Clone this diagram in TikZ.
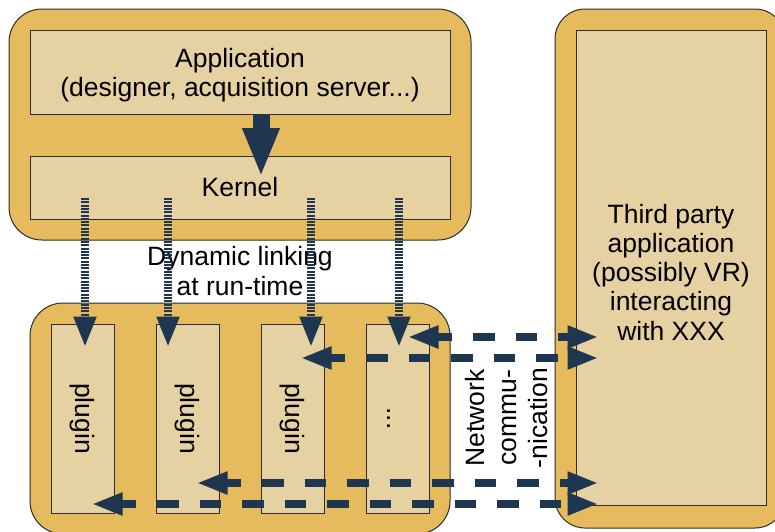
\documentclass[tikz,border=0pt]{standalone}
\usepackage{fontspec}
\setmainfont{Liberation Sans}
\usetikzlibrary{arrows.meta}
\definecolor{contc}{RGB}{230,187,94}
\definecolor{boxc}{RGB}{229,209,161}
\definecolor{arrc}{RGB}{31,54,80}
\definecolor{bordc}{RGB}{45,45,45}
\begin{document}
\begin{tikzpicture}[x=1pt,y=-1pt,
  cont/.style={draw=bordc, line width=1pt, fill=contc, inner sep=0pt, outer sep=0pt},
  box/.style={draw=bordc, line width=1pt, fill=boxc, inner sep=0pt, outer sep=0pt},
  lbl/.style={font=\fontsize{26.5}{29.5}\selectfont, align=center, text=black, inner sep=0pt},
  dotarrow/.style={draw=arrc, line width=8.5pt, dash pattern=on 2pt off 1.3pt, -{Triangle[length=31pt,width=21pt]}},
  netarrow/.style={draw=arrc, line width=8pt, dash pattern=on 21.5pt off 21pt, dash phase=6pt, {Triangle[length=31pt,width=21pt]}-{Triangle[length=31pt,width=21pt]}},
  bigarrow/.style={draw=arrc, line width=17pt, -{Triangle[length=49pt,width=34pt]}}]
\useasboundingbox (0,0) rectangle (775,531);
% containers
\node[cont, rounded corners=33pt, minimum width=462pt, minimum height=231pt] (topc) at (240,124.5) {};
\node[cont, rounded corners=33pt, minimum width=420pt, minimum height=231pt] (botc) at (240,418.5) {};
\node[cont, rounded corners=30pt, minimum width=230pt, minimum height=519pt] (rightc) at (670,268.5) {};
% boxes
\node[box, minimum width=420pt, minimum height=84pt] (app) at (240,72) {};
\node[lbl] (apptext) at ([yshift=-3pt]app.center) {Application\\(designer, acquisition server...)};
\node[box, lbl, minimum width=420pt, minimum height=63pt] (kernel) at (240,187.5) {Kernel};
\node[box, lbl, rotate=-90, minimum width=189pt, minimum height=63pt] (pl1) at (82.5,418.5) {plugin};
\node[box, lbl, rotate=-90, minimum width=189pt, minimum height=63pt] (pl2) at (187.5,418.5) {plugin};
\node[box, lbl, rotate=-90, minimum width=189pt, minimum height=63pt] (pl3) at (292.5,418.5) {plugin};
\node[box, minimum width=63pt, minimum height=189pt] (pl4) at (397.5,418.5) {};
\node[lbl, rotate=-90] (dots) at (389,418.5) {...};
\node[box, minimum width=190pt, minimum height=475pt] (third) at (671,267.5) {};
\node[lbl, font=\fontsize{26.5}{29.25}\selectfont] (thirdtext) at ([yshift=-4.5pt]third.center) {Third party\\application\\(possibly VR)\\interacting\\with XXX};
% free texts
\node[lbl] (dyn) at (240,271) {Dynamic linking\\at run-time};
\node[lbl, rotate=90, font=\fontsize{26.5}{31.5}\selectfont] (net) at (507,418) {Network\\commu-\\-nication};
% coordinates
\coordinate (b0) at (261,114);
\coordinate (b1) at (261,177);
\coordinate (k1) at (85,198);  \coordinate (t1) at (85,347.5);
\coordinate (k2) at (168,198); \coordinate (t2) at (168,347.5);
\coordinate (k3) at (311,198); \coordinate (t3) at (311,347.5);
\coordinate (k4) at (399,198); \coordinate (t4) at (399,347.5);
\coordinate (n1l) at (407.5,337); \coordinate (n1r) at (598.5,337);
\coordinate (n2l) at (300.5,358); \coordinate (n2r) at (598.5,358);
\coordinate (n3l) at (196.5,483); \coordinate (n3r) at (598.5,483);
\coordinate (n4l) at (91.5,504);  \coordinate (n4r) at (598.5,504);
% arrows
\draw[bigarrow] (b0) -- (b1);
\draw[dotarrow] (k1) -- (t1);
\draw[dotarrow] (k2) -- (t2);
\draw[dotarrow] (k3) -- (t3);
\draw[dotarrow] (k4) -- (t4);
\draw[netarrow] (n1l) -- (n1r);
\draw[netarrow] (n2l) -- (n2r);
\draw[netarrow] (n3l) -- (n3r);
\draw[netarrow] (n4l) -- (n4r);
\end{tikzpicture}
\end{document}
